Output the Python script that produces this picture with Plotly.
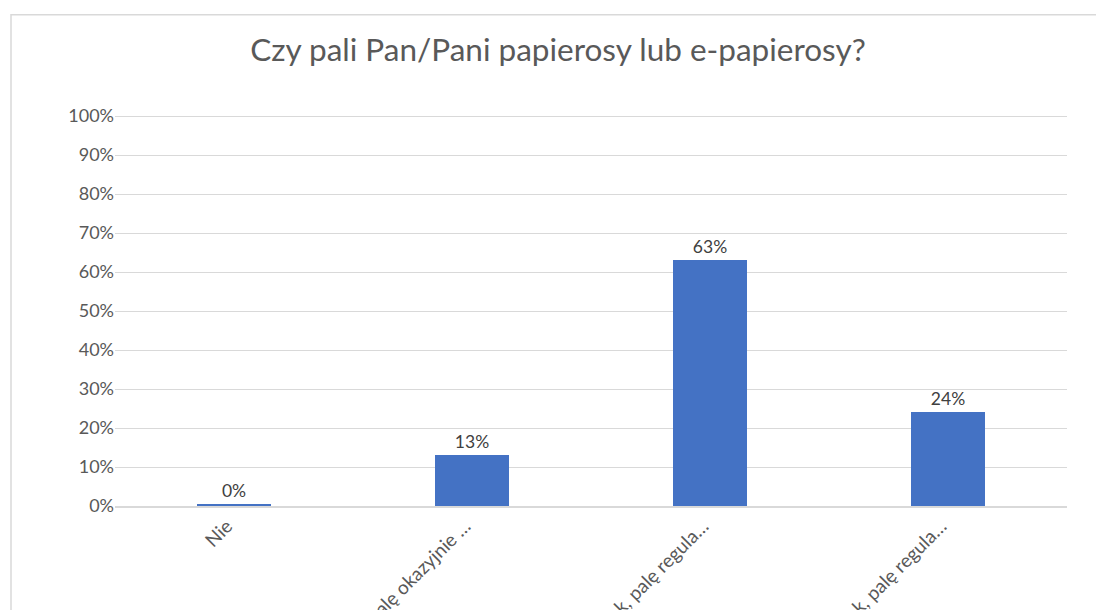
import plotly.graph_objects as go

categories = ["Nie", "Tak, palę okazyjnie …", "Tak, palę regula…", "Tak, palę regula…"]
values = [0.003, 0.13, 0.63, 0.24]
y_ticks = [i / 10 for i in range(11)]
y_tick_labels = [f"{i * 10}%" for i in range(11)]

W, H = 1096, 610
YMAX = 1.003
L, R, B = 115, 1067, 506
T = B - 390 * YMAX

fig = go.Figure()
fig.add_trace(go.Bar(
    x=list(range(len(categories))),
    y=values,
    width=0.315,
    marker=dict(color="#4472C4", line=dict(width=0)),
    text=values,
    texttemplate="%{y:.0%}",
    textposition="outside",
    constraintext="none",
    textfont=dict(family="Lato", size=17.5, color="#404040"),
    cliponaxis=False,
))

pw, ph = R - L, B - T
fig.add_shape(type="rect", xref="paper", yref="paper",
              x0=(11 - L) / pw, x1=(1110 - L) / pw,
              y0=(B - 640) / ph, y1=(B - 14.5) / ph,
              line=dict(color="#D9D9D9", width=1.5), layer="below")

fig.update_layout(
    width=W, height=H,
    margin=dict(l=L, r=W - R, t=T, b=H - B, autoexpand=False),
    paper_bgcolor="white", plot_bgcolor="white",
    title=dict(text="Czy pali Pan/Pani papierosy lub e-papierosy?",
               x=558 / W, xanchor="center", y=1 - 50 / H, yanchor="middle",
               yref="container",
               font=dict(family="Lato", size=31.5, color="#595959", weight=400)),
    showlegend=False,
    bargap=0,
)
fig.update_xaxes(
    tickmode="array", tickvals=list(range(len(categories))), ticktext=categories,
    range=[-0.5, len(categories) - 0.5], tickangle=-45, automargin=False,
    showgrid=False, showline=True, linecolor="#D9D9D9", linewidth=1.5,
    ticks="", tickfont=dict(family="Lato", size=19, color="#595959"),
    ticklabelshift=-7, zeroline=False,
)
fig.update_yaxes(
    range=[0, YMAX], tickmode="array", tickvals=y_ticks, ticktext=y_tick_labels,
    showgrid=True, gridcolor="#D9D9D9", gridwidth=1, zeroline=False,
    showline=False, ticks="", ticklen=0, automargin=False,
    tickfont=dict(family="Lato", size=18, color="#595959"),
)

fig.write_html("out.html", config={"displayModeBar": False},
               post_script="document.body.style.margin='0';document.body.style.overflow='hidden';")
